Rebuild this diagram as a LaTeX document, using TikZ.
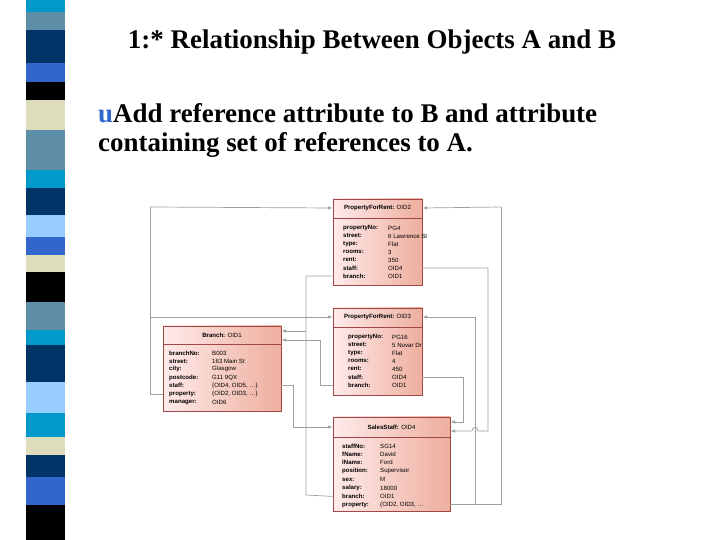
\documentclass[tikz,border=0pt]{standalone}
\usepackage{fontspec}
\setmainfont{Liberation Serif}
\newfontfamily\boxfont{Liberation Sans}
\usetikzlibrary{arrows.meta,fit}

\definecolor{sCyan}{HTML}{0099CC}
\definecolor{sSteel}{HTML}{5F8FA8}
\definecolor{sNavy}{HTML}{003366}
\definecolor{sRoyal}{HTML}{3366CC}
\definecolor{sBeige}{HTML}{DDDDBB}
\definecolor{sLight}{HTML}{99CCFF}
\definecolor{boxEdge}{HTML}{A04848}

\tikzset{
  objbox/.style={draw=boxEdge, line width=0.7pt, inner sep=0pt, left color=red!8, right color=red!40!brown!45},
  objline/.style={draw=boxEdge, line width=0.6pt},
  rowlab/.style={anchor=west, inner sep=0pt, font=\boxfont\fontsize{5.2}{6}\selectfont\bfseries},
  rowval/.style={anchor=west, inner sep=0pt, font=\boxfont\fontsize{5.2}{6}\selectfont},
  link/.style={draw=gray!75, line width=0.6pt},
  linkarr/.style={link, -{Latex[length=4pt,width=3pt]}}
}

\begin{document}
\begin{tikzpicture}[x=0.03cm,y=-0.03cm]
\useasboundingbox (0,0) rectangle (720,540);

% stripe on the left
\foreach \ya/\yb/\c in {0/12/sCyan,12/30/sSteel,30/63/sNavy,63/82/sRoyal,82/100/black,
  100/130/sBeige,130/170/sSteel,170/188/sCyan,188/215/sNavy,215/237/sLight,237/255/sRoyal,
  255/272/sBeige,272/302/black,302/330/sSteel,330/345/sCyan,345/382/sNavy,382/413/sLight,
  413/437/sCyan,437/455/sBeige,455/477/sNavy,477/505/sRoyal,505/540/black}
  \fill[\c] (26,\ya) rectangle (65,\yb);

% texts
\node (title) at (372,42) {\fontsize{23}{27}\selectfont\bfseries 1:* Relationship Between Objects A and B};
\node[anchor=west, inner sep=0pt] (item1) at (98,113) {\fontsize{23}{27}\selectfont\bfseries\textcolor{sRoyal}{u}Add reference attribute to B and attribute};
\node[anchor=west, inner sep=0pt] (item2) at (98,145) {\fontsize{23}{27}\selectfont\bfseries containing set of references to A.};

% objects
\node[objbox, fit={(333,199) (422,285)}] (p2) {};
\draw[objline] (333,218) -- (422,218);
\node[rowval] (p2-h) at (377.5,208) [anchor=center] {\textbf{PropertyForRent:} OID2};
\foreach \lab/\val [count=\i] in {propertyNo:/PG4,street:/6 Lawrence St,type:/Flat,rooms:/3,rent:/350,staff:/OID4,branch:/OID1}{
  \node[rowlab] (p2-\i) at (343,{228+(\i-1)*8}) {\lab};
  \node[rowval] (p2v-\i) at (388,{228+(\i-1)*8}) {\val};
}

\node[objbox, fit={(333,308) (422,395)}] (p3) {};
\draw[objline] (333,327) -- (422,327);
\node[rowval] (p3-h) at (377.5,317) [anchor=center] {\textbf{PropertyForRent:} OID3};
\foreach \lab/\val [count=\i] in {propertyNo:/PG16,street:/5 Novar Dr,type:/Flat,rooms:/4,rent:/450,staff:/OID4,branch:/OID1}{
  \node[rowlab] (p3-\i) at (348,{337+(\i-1)*8}) {\lab};
  \node[rowval] (p3v-\i) at (392,{337+(\i-1)*8}) {\val};
}

\node[objbox, fit={(163,326) (281,411)}] (br) {};
\draw[objline] (163,344) -- (281,344);
\node[rowval] (br-h) at (222,335) [anchor=center] {\textbf{Branch:} OID1};
\foreach \lab/\val [count=\i] in {branchNo:/B003,street:/163 Main St,city:/Glasgow,postcode:/G11 9QX,
  staff:/{\{OID4, OID5, \ldots\}},property:/{\{OID2, OID3, \ldots\}},manager:/OID6}{
  \node[rowlab] (br-\i) at (169,{353+(\i-1)*8.2}) {\lab};
  \node[rowval] (brv-\i) at (212,{353+(\i-1)*8.2}) {\val};
}

\node[objbox, fit={(333,417) (450,511)}] (ss) {};
\draw[objline] (333,437) -- (450,437);
\node[rowval] (ss-h) at (391.5,427) [anchor=center] {\textbf{SalesStaff:} OID4};
\foreach \lab/\val [count=\i] in {staffNo:/SG14,fName:/David,lName:/Ford,position:/Supervisor,
  sex:/M,salary:/18000,branch:/OID1,property:/{\{OID2, OID3, \ldots}}{
  \node[rowlab] (ss-\i) at (342,{446+(\i-1)*8.4}) {\lab};
  \node[rowval] (ssv-\i) at (380,{446+(\i-1)*8.4}) {\val};
}

% connectors
\coordinate (lt) at (150,207);
\draw[link] (br.west |- br-6) -| (lt);
\draw[linkarr] (lt) -- (p2.west |- p2-h);
\draw[linkarr] (lt |- p3-h) -- (p3.west |- p3-h);
\draw[link] (p2.west |- p2-7) -| (306,495) -- (ss.west |- ss-7);
\draw[linkarr] (306,331) -- (br.east |- 0,331);
\draw[linkarr] (p3.west |- p3-7) -| (320,340) -- (br.east |- 0,340);
\draw[linkarr] (br.east |- br-5) -| (293,427) -- (ss.west |- ss-h);
\draw[linkarr] (p3.east |- p3-6) -| (463,422) -- (ss.east |- 0,422);
\draw[linkarr] (p2.east |- p2-6) -| (488,431) -- (478,431) .. controls (478,426) and (472,426) .. (472,431) -- (ss.east |- 0,431);
\coordinate (rt) at (501,207);
\draw[link] (ss.east |- ss-8) -| (rt);
\draw[linkarr] (rt) -- (p2.east |- p2-h);
\draw[linkarr] (475,0 |- ss-8) |- (p3.east |- p3-h);
\end{tikzpicture}
\end{document}
